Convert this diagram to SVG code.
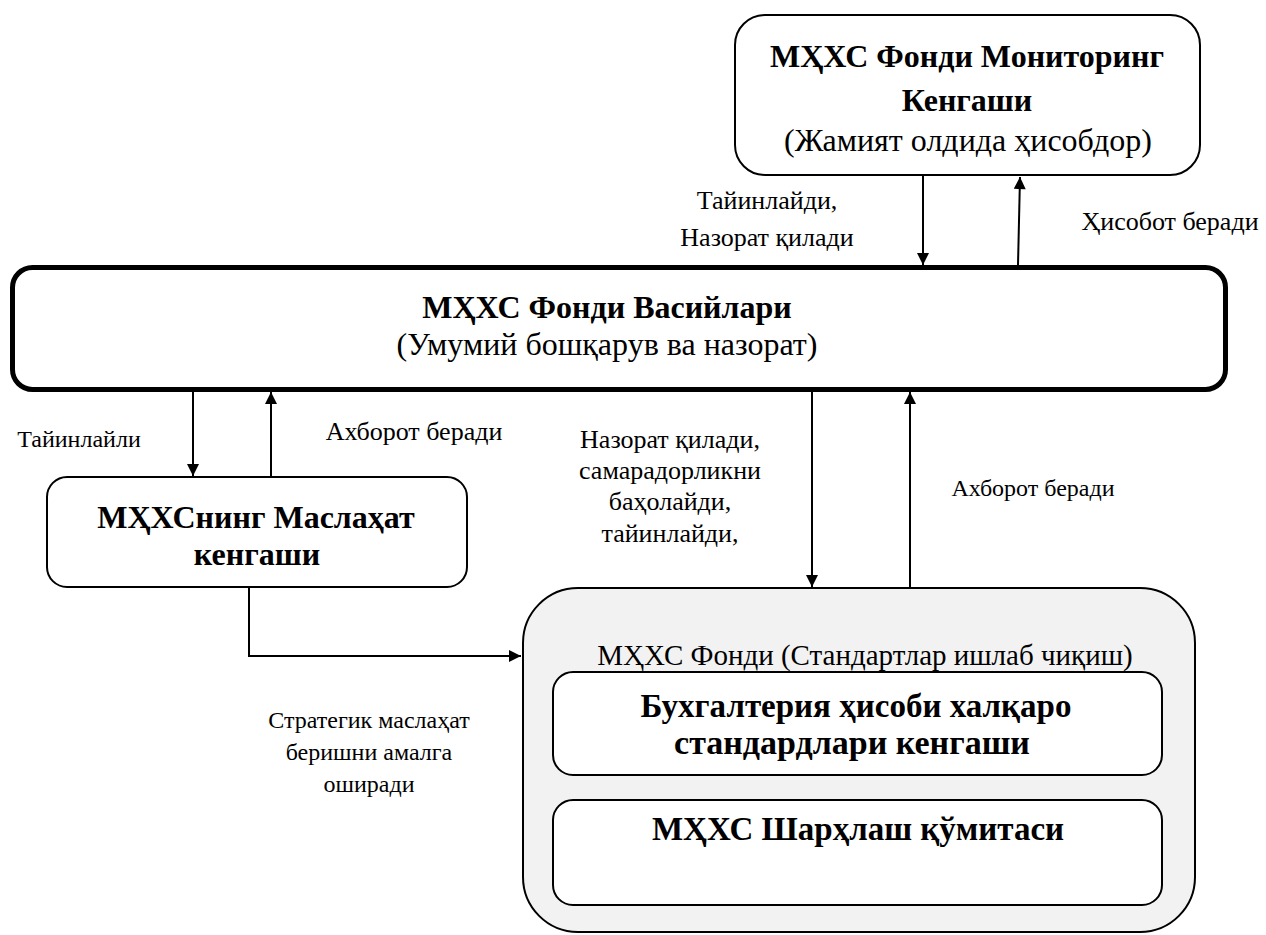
<svg xmlns="http://www.w3.org/2000/svg" width="1266" height="935" viewBox="0 0 1266 935">
<defs>
<marker id="ah" viewBox="0 0 10 10" refX="10" refY="5" markerWidth="13" markerHeight="12" markerUnits="userSpaceOnUse" orient="auto">
<path d="M0,0 L10,5 L0,10 z" fill="#000"/>
</marker>
<style>
.box{fill:#fff;stroke:#000;stroke-width:2}
.t{font-family:"Liberation Serif","Times New Roman",serif;fill:#000;text-anchor:middle}
.b{font-weight:bold}
.h{font-size:32px}
.s{font-size:26px}
.m{font-size:24px}
.c{stroke:#000;stroke-width:2;fill:none}
</style>
</defs>
<rect width="1266" height="935" fill="#fff"/>
<g id="monitoring">
<rect class="box" x="735" y="15" width="465" height="160" rx="30"/>
<text class="t b h" x="967" y="67">МҲХС Фонди Мониторинг</text>
<text class="t b h" x="967" y="111">Кенгаши</text>
<text class="t h" x="968" y="151">(Жамият олдида ҳисобдор)</text>
</g>
<g id="trustees">
<rect x="12.5" y="267.5" width="1213" height="122" rx="20" fill="#fff" stroke="#000" stroke-width="5"/>
<text class="t b h" x="607" y="318">МҲХС Фонди Васийлари</text>
<text class="t h" x="607" y="355">(Умумий бошқарув ва назорат)</text>
</g>
<g id="advisory">
<rect class="box" x="47" y="477" width="420" height="110" rx="20"/>
<text class="t b h" x="256" y="528">МҲХСнинг Маслаҳат</text>
<text class="t b h" x="257" y="565">кенгаши</text>
</g>
<g id="foundation">
<rect x="523" y="588" width="672" height="344" rx="55" fill="#f2f2f2" stroke="#000" stroke-width="2"/>
<text class="t" x="865" y="665" font-size="29">МҲХС Фонди (Стандартлар ишлаб чиқиш)</text>
</g>
<g id="iasb">
<rect class="box" x="553" y="672" width="609" height="103" rx="20"/>
<text class="t b" x="856" y="717" font-size="33">Бухгалтерия ҳисоби халқаро</text>
<text class="t b" x="852" y="754" font-size="34">стандардлари кенгаши</text>
</g>
<g id="ifric">
<rect class="box" x="553" y="800" width="609" height="105" rx="20"/>
<text class="t b" x="858" y="840" font-size="33">МҲХС Шарҳлаш қўмитаси</text>
</g>
<g id="connectors">
<line class="c" x1="923" y1="176" x2="923" y2="265" marker-end="url(#ah)"/>
<line class="c" x1="1018" y1="265" x2="1020" y2="177" marker-end="url(#ah)"/>
<line class="c" x1="193" y1="392" x2="193" y2="476" marker-end="url(#ah)"/>
<line class="c" x1="271" y1="477" x2="271" y2="392" marker-end="url(#ah)"/>
<line class="c" x1="812" y1="392" x2="812" y2="587" marker-end="url(#ah)"/>
<line class="c" x1="910" y1="588" x2="910" y2="392" marker-end="url(#ah)"/>
<polyline class="c" points="249,588 249,656 521,656" marker-end="url(#ah)"/>
</g>
<g id="labels">
<text class="t s" x="767" y="209">Тайинлайди,</text>
<text class="t s" x="767" y="246">Назорат қилади</text>
<text class="t s" x="1170" y="230">Ҳисобот беради</text>
<text class="t m" x="79" y="447">Тайинлайли</text>
<text class="t s" x="414" y="440">Ахборот беради</text>
<text class="t s" x="670" y="448">Назорат қилади,</text>
<text class="t s" x="670" y="479">самарадорликни</text>
<text class="t s" x="670" y="510">баҳолайди,</text>
<text class="t s" x="670" y="542">тайинлайди,</text>
<text class="t" x="1033" y="496" font-size="24">Ахборот беради</text>
<text class="t m" x="369" y="728">Стратегик маслаҳат</text>
<text class="t m" x="369" y="760">беришни амалга</text>
<text class="t m" x="369" y="792">оширади</text>
</g>
</svg>
